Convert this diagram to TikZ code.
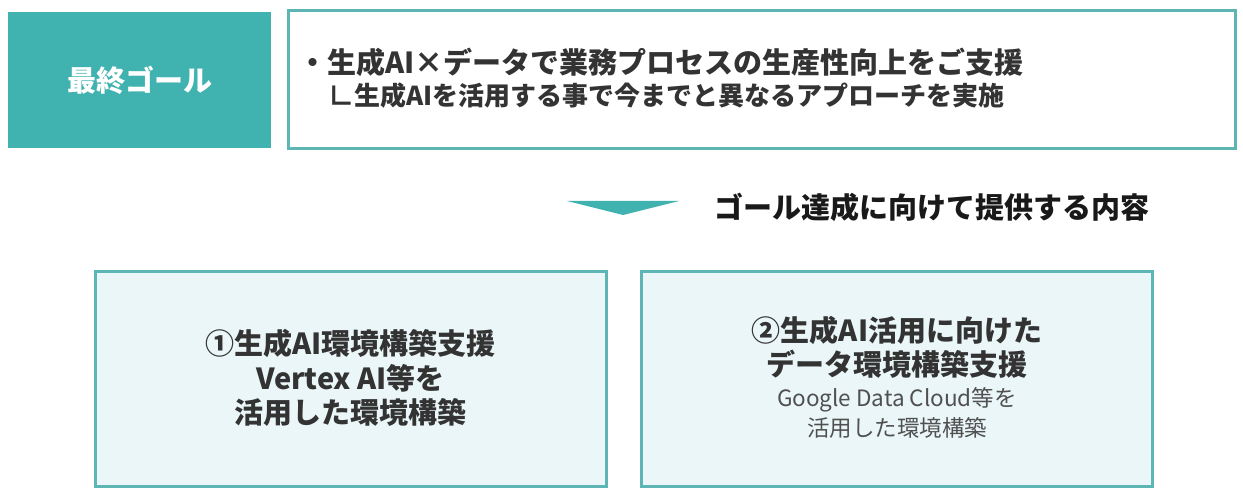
\documentclass[tikz,border=0pt]{standalone}
\usepackage{fontspec}
\setmainfont{Noto Sans CJK JP}
\definecolor{teal1}{HTML}{40B2B0}
\definecolor{tealline}{HTML}{5DB6B4}
\definecolor{lightfill}{HTML}{EAF6F8}
\definecolor{darktext}{HTML}{333333}
\definecolor{subtext}{HTML}{505050}
\tikzset{
  goalbox/.style={draw=none, fill=teal1, minimum width=263pt, minimum height=136pt, inner sep=0pt, text=white, font=\fontsize{29}{34}\selectfont\bfseries},
  textbox/.style={draw=tealline, line width=3pt, fill=white, minimum width=947pt, minimum height=138pt, inner sep=0pt},
  offerbox/.style={draw=tealline, line width=3pt, fill=lightfill, minimum width=511pt, minimum height=215pt, inner sep=0pt, align=center, text=darktext},
  bodytext/.style={text=darktext, align=left, inner sep=0pt, font=\fontsize{26}{32}\selectfont\bfseries},
  headtext/.style={text=black!90, inner sep=0pt, font=\fontsize{29}{34}\selectfont\bfseries},
  arrowtri/.style={fill=teal1, draw=none}
}
\begin{document}
\begin{tikzpicture}[x=1pt,y=-1pt]
\useasboundingbox (0,0) rectangle (1243,500);
\node[goalbox] (goal) at (139.5,80) {最終ゴール};
\node[textbox] (goaltext) at (761.5,80) {};
\node[bodytext, anchor=west] (lines) at (298,78.5) {{\fontsize{29}{32}\selectfont ・生成AI×データで業務プロセスの生産性向上をご支援}\\\hspace*{30pt}∟生成AIを活用する事で今までと異なるアプローチを実施};
\coordinate (tl) at (567,201);
\coordinate (tr) at (679,201);
\coordinate (tb) at (623,215);
\fill[arrowtri] (tl) -- (tr) -- (tb) -- cycle;
\node[headtext, anchor=west] (head) at (714,207) {ゴール達成に向けて提供する内容};
\node[offerbox] (box1) at (350.5,378.5) {};
\node[text=darktext, align=center, inner sep=0pt, font=\fontsize{29}{34.5}\selectfont\bfseries] (box1text) at (350.5,378) {①生成AI環境構築支援\\Vertex AI等を\\活用した環境構築};
\node[offerbox] (box2) at (897,378.5) {};
\node[text=darktext, align=center, inner sep=0pt, font=\fontsize{29}{34}\selectfont\bfseries] (box2head) at (897,347) {②生成AI活用に向けた\\データ環境構築支援};
\node[text=subtext, align=center, inner sep=0pt, font=\fontsize{22.5}{30}\selectfont] (box2sub) at (897,413) {Google Data Cloud等を\\活用した環境構築};
\end{tikzpicture}
\end{document}
